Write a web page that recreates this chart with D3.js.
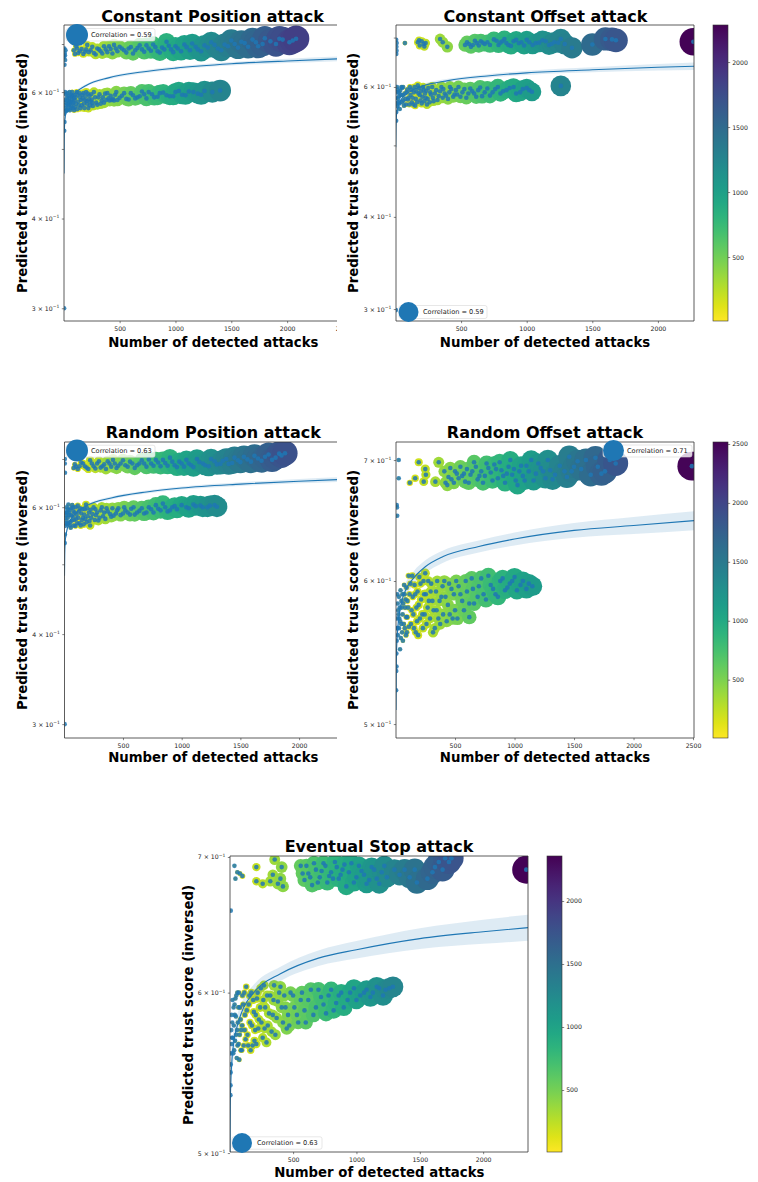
<!DOCTYPE html>
<html><head><meta charset="utf-8">
<script src="https://cdn.jsdelivr.net/npm/d3@7"></script>
<style>body{margin:0;background:#fff} svg{display:block} text{font-family:"DejaVu Sans",sans-serif}</style>
</head><body><svg id="c" width="758" height="1182"></svg>
<script>
// ---------------- DATA ----------------
const titles = ["Constant Position attack","Constant Offset attack","Random Position attack","Random Offset attack","Eventual Stop attack"];
const correlations = ["0.59","0.59","0.63","0.71","0.63"];
const xLabel = "Number of detected attacks";
const yLabel = "Predicted trust score (inversed)";
const xTicksCP = [500,1000,1500,2000,2500];
const xTicksCO = [500,1000,1500,2000];
const xTicksRP = [500,1000,1500,2000];
const xTicksRO = [500,1000,1500,2000,2500];
const xTicksES = [500,1000,1500,2000];
const yTicksWide = [0.3,0.4,0.5,0.6,0.7];
const yLabelsWide = [0.3,0.4,0.6];
const yTicksNarrow = [0.5,0.6,0.7];
const yLabelsNarrow = [0.5,0.6,0.7];
const cbTicksCO = [500,1000,1500,2000];
const cbTicksRO = [500,1000,1500,2000,2500];
const cbTicksES = [500,1000,1500,2000];

const pointsCP = [[5,0.69],[8,0.68],[12,0.665],[6,0.655],[15,0.686],[10,0.675],[4,0.672],
[90,0.686],[110,0.695],[130,0.68],[160,0.689],[190,0.683],[210,0.698],[240,0.686],[270,0.68],[300,0.69],[330,0.684],[360,0.695],[390,0.682],[420,0.689],[450,0.698],[480,0.684],[520,0.69],[560,0.681],[600,0.693],[640,0.686],[680,0.697],[720,0.683],[760,0.69],[800,0.699],[840,0.684],[880,0.692],[920,0.705],[960,0.688],[1000,0.695],[1050,0.684],[1100,0.693],[1150,0.701],[1200,0.688],[1260,0.697],[1320,0.704],[1380,0.69],[1440,0.699],[1500,0.708],[1560,0.692],[1620,0.702],[1690,0.71],[1740,0.695],[1800,0.713],[1900,0.7],[1960,0.71],[2020,0.704],[2080,0.712],
[100,0.678],[120,0.69],[145,0.684],[175,0.678],[200,0.688],[225,0.682],[255,0.694],[285,0.677],[315,0.688],[345,0.679],[375,0.688],[405,0.695],[435,0.679],[465,0.69],[500,0.694],[540,0.686],[580,0.69],[620,0.679],[660,0.691],[700,0.688],[740,0.697],[780,0.685],[820,0.693],[860,0.681],[900,0.688],[940,0.696],[980,0.682],[1020,0.69],[1080,0.699],[1130,0.686],[1180,0.694],[1230,0.684],[1290,0.692],[1350,0.698],[1410,0.686],[1470,0.695],[1530,0.7],[1590,0.705],[1650,0.694],[1720,0.704],[1780,0.7],[1850,0.706],[1930,0.712],[2050,0.708],
[4,0.53],[6,0.545],[5,0.56],[8,0.575],[10,0.585],[12,0.6],[15,0.57],[20,0.58],[25,0.565],[30,0.59],[35,0.578],[40,0.575],[45,0.592],[50,0.583],[55,0.566],[60,0.57],[65,0.582],[70,0.595],[75,0.6],[80,0.578],[85,0.57],[90,0.588],[95,0.594],[100,0.572],[115,0.6],[120,0.568],[130,0.582],[140,0.598],[145,0.59],[150,0.57],[160,0.575],[170,0.588],[175,0.598],[190,0.585],[200,0.6],[210,0.578],[220,0.57],[230,0.593],[240,0.582],[250,0.586],[260,0.574],[270,0.6],[290,0.58],[310,0.59],[340,0.584],[370,0.597],[400,0.588],[430,0.585],[460,0.595],[500,0.589],[540,0.598],[580,0.586],[620,0.594],[660,0.59],[700,0.601],[740,0.588],[790,0.596],[840,0.591],[890,0.599],[950,0.592],[1000,0.6],[1060,0.595],[1120,0.601],[1200,0.597],[1260,0.602],[1400,0.603],[3,0.3],
[18,0.596],[22,0.566],[28,0.584],[33,0.598],[38,0.568],[42,0.588],[48,0.576],[52,0.6],[58,0.58],[62,0.592],[68,0.573],[72,0.585],[78,0.592],[88,0.58],[92,0.566],[98,0.585],[105,0.59],[110,0.578],[125,0.595],[135,0.575],[155,0.585],[165,0.595],[180,0.578],[185,0.57],[195,0.592],[205,0.583],[215,0.597],[225,0.586],[235,0.575],[245,0.596],[255,0.58],[280,0.59],[300,0.576],[320,0.596],[330,0.578],[350,0.59],[360,0.58],[380,0.585],[390,0.598],[410,0.584],[420,0.593],[440,0.587],[450,0.584],[470,0.6],[480,0.585],[520,0.593],[560,0.587],[600,0.598],[640,0.588],[680,0.592],[720,0.596],[760,0.6],[810,0.59],[860,0.598],[920,0.594],[980,0.592],[1030,0.602],[1090,0.594],[1160,0.6],[1230,0.595],[1330,0.6]];

const pointsCO = [[5,0.695],[7,0.68],[6,0.665],[9,0.688],[8,0.672],[72,0.688],[170,0.69],[185,0.683],[200,0.692],[215,0.686],[230,0.688],[340,0.697],[395,0.68],[530,0.684],[560,0.686],[590,0.684],[620,0.688],[650,0.692],[680,0.686],[700,0.69],[770,0.693],[800,0.689],[830,0.697],[860,0.684],[900,0.692],[940,0.688],[980,0.683],[1020,0.69],[1070,0.688],[1120,0.694],[1170,0.684],[1210,0.69],[1260,0.697],[1345,0.678],[1500,0.685],[1600,0.697],[1650,0.696],[1680,0.694],[2270,0.691],
[545,0.69],[575,0.68],[605,0.693],[635,0.683],[665,0.689],[720,0.684],[750,0.696],[785,0.684],[815,0.692],[845,0.688],[880,0.682],[920,0.695],[960,0.69],[1000,0.695],[1045,0.684],[1095,0.689],[1145,0.692],[1190,0.686],[1240,0.689],[1290,0.686],[180,0.694],[220,0.681],[360,0.69],
[5,0.54],[6,0.555],[8,0.57],[5,0.58],[10,0.59],[12,0.6],[15,0.565],[20,0.578],[25,0.59],[30,0.57],[40,0.585],[45,0.6],[50,0.598],[60,0.575],[65,0.566],[70,0.588],[80,0.568],[90,0.595],[95,0.577],[100,0.58],[110,0.6],[125,0.572],[135,0.568],[140,0.59],[155,0.578],[160,0.592],[170,0.603],[185,0.585],[200,0.57],[215,0.595],[230,0.58],[240,0.568],[250,0.598],[270,0.586],[290,0.574],[310,0.594],[330,0.583],[350,0.6],[375,0.588],[400,0.578],[425,0.596],[450,0.586],[480,0.6],[510,0.59],[540,0.58],[570,0.597],[600,0.588],[630,0.594],[660,0.583],[700,0.597],[740,0.59],[780,0.6],[820,0.592],[870,0.598],[920,0.588],[970,0.596],[1040,0.591],[1260,0.602],[3,0.299],
[18,0.595],[22,0.572],[28,0.583],[33,0.56],[36,0.593],[48,0.572],[55,0.585],[58,0.6],[75,0.578],[85,0.59],[105,0.568],[115,0.585],[120,0.595],[130,0.58],[145,0.6],[150,0.566],[165,0.572],[175,0.588],[180,0.598],[190,0.575],[195,0.592],[205,0.582],[210,0.6],[220,0.574],[225,0.588],[235,0.593],[245,0.578],[260,0.572],[265,0.59],[280,0.6],[285,0.58],[300,0.588],[320,0.576],[340,0.592],[360,0.58],[365,0.596],[385,0.584],[410,0.59],[415,0.6],[440,0.582],[460,0.594],[470,0.586],[495,0.582],[525,0.596],[555,0.588],[585,0.592],[615,0.582],[645,0.599],[680,0.59],[720,0.584],[760,0.596],[800,0.588],[845,0.594],[900,0.6],[950,0.59],[1000,0.598],[1020,0.594]];

const pointsRP = [[5,0.70],[6,0.67],[4,0.69],[80,0.68],[100,0.683],[130,0.684],[160,0.69],[190,0.681],[220,0.697],[250,0.684],[280,0.69],[310,0.681],[340,0.688],[370,0.695],[400,0.683],[430,0.69],[460,0.685],[500,0.697],[540,0.683],[580,0.69],[620,0.686],[660,0.697],[700,0.683],[740,0.69],[780,0.698],[820,0.684],[860,0.691],[900,0.703],[940,0.686],[980,0.694],[1020,0.683],[1060,0.69],[1100,0.682],[1150,0.693],[1200,0.686],[1250,0.7],[1300,0.688],[1350,0.696],[1400,0.689],[1450,0.703],[1500,0.693],[1560,0.699],[1620,0.707],[1680,0.696],[1740,0.71],[1800,0.703],[1850,0.708],[1880,0.713],
[90,0.688],[115,0.678],[145,0.692],[175,0.684],[205,0.678],[235,0.69],[265,0.679],[295,0.695],[325,0.684],[355,0.678],[385,0.69],[415,0.698],[445,0.68],[480,0.69],[520,0.686],[560,0.694],[600,0.68],[640,0.69],[680,0.69],[720,0.699],[760,0.685],[800,0.692],[840,0.698],[880,0.685],[920,0.694],[960,0.682],[1000,0.69],[1040,0.698],[1080,0.686],[1130,0.7],[1180,0.69],[1230,0.684],[1280,0.695],[1330,0.689],[1380,0.7],[1430,0.691],[1480,0.697],[1530,0.705],[1590,0.694],[1650,0.701],[1710,0.705],[1770,0.698],[1830,0.712],
[4,0.535],[5,0.55],[6,0.565],[8,0.58],[10,0.59],[12,0.57],[15,0.585],[20,0.6],[25,0.568],[30,0.58],[35,0.605],[40,0.59],[50,0.572],[55,0.562],[60,0.598],[70,0.583],[75,0.6],[80,0.566],[90,0.59],[95,0.565],[100,0.578],[115,0.603],[125,0.592],[130,0.57],[140,0.566],[145,0.588],[160,0.58],[175,0.596],[185,0.605],[190,0.572],[210,0.59],[220,0.566],[230,0.58],[250,0.6],[270,0.585],[290,0.575],[310,0.594],[330,0.583],[360,0.598],[390,0.587],[420,0.584],[450,0.594],[480,0.585],[510,0.6],[540,0.59],[570,0.597],[600,0.586],[640,0.593],[680,0.588],[720,0.6],[760,0.59],[800,0.597],[840,0.607],[880,0.592],[920,0.6],[960,0.596],[1000,0.604],[1060,0.598],[1120,0.602],[1180,0.6],[1240,0.603],[1300,0.601],[3,0.3],
[18,0.575],[22,0.59],[28,0.596],[32,0.57],[38,0.585],[45,0.595],[48,0.566],[58,0.585],[65,0.575],[68,0.604],[78,0.592],[85,0.576],[98,0.6],[105,0.586],[110,0.57],[120,0.58],[135,0.598],[150,0.576],[155,0.596],[165,0.568],[170,0.586],[180,0.578],[195,0.598],[200,0.583],[215,0.574],[225,0.595],[240,0.587],[260,0.576],[265,0.596],[280,0.59],[300,0.58],[320,0.6],[340,0.59],[350,0.578],[370,0.592],[400,0.582],[410,0.598],[440,0.588],[460,0.598],[500,0.588],[520,0.594],[560,0.586],[590,0.6],[620,0.59],[660,0.598],[700,0.59],[740,0.596],[780,0.604],[820,0.594],[860,0.6],[900,0.594],[940,0.602],[1040,0.6],[1100,0.605],[1160,0.603],[1220,0.6],[1280,0.604]];

const pointsRO = [[27,0.70],[27,0.684],[10,0.661],[12,0.659],[14,0.652],[120,0.68],[165,0.684],[195,0.698],[237,0.681],[250,0.692],[255,0.687],[335,0.681],[363,0.698],[420,0.68],[445,0.685],[470,0.683],[500,0.69],[530,0.684],[560,0.686],[585,0.681],[600,0.692],[630,0.687],[660,0.698],[690,0.683],[720,0.69],[750,0.686],[780,0.693],[800,0.689],[830,0.696],[860,0.684],[890,0.691],[920,0.68],[950,0.694],[980,0.687],[1010,0.682],[1040,0.69],[1070,0.686],[1100,0.695],[1140,0.70],[1180,0.688],[1220,0.693],[1260,0.684],[1300,0.691],[1340,0.687],[1420,0.69],[1460,0.703],[1500,0.694],[1530,0.699],[1640,0.687],[1700,0.694],[1760,0.69],[1800,0.70],[1850,0.697],[2490,0.6946],
[410,0.69],[435,0.678],[460,0.693],[490,0.68],[515,0.688],[545,0.694],[575,0.688],[615,0.68],[645,0.69],[675,0.694],[705,0.686],[735,0.68],[765,0.697],[815,0.682],[845,0.692],[875,0.698],[905,0.686],[935,0.688],[965,0.7],[995,0.692],[1025,0.678],[1055,0.695],[1085,0.682],[1120,0.69],[1160,0.682],[1200,0.697],[1240,0.69],[1280,0.7],[1320,0.683],[1380,0.695],[1440,0.685],[1480,0.69],[1560,0.692],[1600,0.7],[1680,0.702],[1730,0.688],
[5,0.522],[6,0.535],[8,0.538],[7,0.547],[10,0.556],[12,0.565],[15,0.572],[18,0.583],[20,0.56],[25,0.575],[30,0.565],[35,0.58],[40,0.57],[45,0.558],[50,0.585],[55,0.562],[60,0.575],[70,0.568],[75,0.59],[80,0.58],[90,0.573],[95,0.562],[100,0.585],[110,0.604],[125,0.598],[130,0.568],[140,0.604],[150,0.575],[165,0.59],[170,0.562],[180,0.57],[195,0.582],[200,0.603],[210,0.598],[225,0.575],[240,0.59],[250,0.606],[260,0.568],[280,0.585],[300,0.598],[320,0.578],[330,0.565],[340,0.592],[360,0.572],[385,0.588],[410,0.6],[430,0.57],[440,0.582],[470,0.594],[480,0.572],[500,0.578],[530,0.596],[560,0.585],[590,0.6],[620,0.583],[620,0.573],[650,0.594],[690,0.588],[720,0.602],[760,0.586],[800,0.597],[840,0.59],[880,0.6],[920,0.593],[960,0.598],[1000,0.603],[1050,0.597],[1100,0.594],[1150,0.596],
[15,0.59],[18,0.565],[22,0.578],[28,0.588],[32,0.572],[38,0.55],[42,0.593],[48,0.568],[52,0.58],[58,0.59],[62,0.556],[65,0.583],[72,0.597],[78,0.565],[85,0.586],[88,0.56],[92,0.595],[98,0.573],[105,0.58],[112,0.566],[118,0.59],[135,0.578],[145,0.588],[155,0.565],[160,0.597],[175,0.58],[185,0.592],[190,0.56],[205,0.572],[215,0.586],[230,0.565],[235,0.6],[245,0.575],[255,0.59],[270,0.58],[275,0.6],[290,0.572],[295,0.592],[310,0.585],[315,0.562],[345,0.578],[350,0.6],[370,0.585],[375,0.568],[395,0.596],[400,0.575],[420,0.588],[450,0.598],[455,0.575],[490,0.59],[510,0.6],[520,0.572],[545,0.59],[575,0.578],[600,0.592],[640,0.602],[660,0.583],[700,0.596],[740,0.59],[780,0.604],[820,0.594],[860,0.588],[900,0.602],[940,0.595],[980,0.6],[1020,0.593],[1070,0.6],[1120,0.598]];

const pointsES = [[37,0.693],[60,0.688],[80,0.687],[100,0.685],[45,0.683],[8,0.6586],[210,0.692],[210,0.681],[355,0.698],[410,0.692],[320,0.681],[380,0.679],[420,0.677],[560,0.693],[590,0.682],[620,0.687],[650,0.678],[680,0.69],[710,0.684],[740,0.695],[770,0.68],[800,0.688],[830,0.696],[860,0.683],[890,0.69],[920,0.677],[960,0.695],[1000,0.684],[1040,0.689],[1080,0.679],[1120,0.692],[1160,0.683],[1200,0.688],[1240,0.684],[1300,0.69],[1380,0.69],[1477,0.68],[1460,0.69],[1600,0.688],[1650,0.696],[1700,0.699],[1750,0.699],[2340,0.69],
[575,0.687],[605,0.693],[635,0.684],[665,0.695],[695,0.68],[725,0.689],[755,0.693],[785,0.685],[815,0.683],[845,0.692],[875,0.686],[905,0.694],[940,0.688],[980,0.68],[1020,0.693],[1060,0.686],[1100,0.682],[1140,0.69],[1180,0.679],[1220,0.693],[1340,0.686],[1420,0.684],[1560,0.683],[1620,0.692],[1680,0.69],[1730,0.696],[340,0.686],[400,0.683],[260,0.679],
[5,0.534],[6,0.54],[7,0.548],[8,0.553],[10,0.56],[12,0.575],[15,0.566],[20,0.58],[25,0.57],[30,0.59],[35,0.562],[40,0.585],[45,0.596],[50,0.572],[55,0.557],[60,0.6],[65,0.58],[70,0.566],[75,0.556],[80,0.59],[90,0.575],[95,0.562],[100,0.598],[110,0.565],[120,0.585],[125,0.569],[130,0.604],[140,0.572],[150,0.592],[160,0.58],[165,0.562],[170,0.6],[180,0.565],[190,0.587],[200,0.575],[210,0.566],[215,0.596],[230,0.582],[245,0.603],[260,0.57],[270,0.605],[280,0.59],[290,0.567],[300,0.578],[320,0.598],[340,0.585],[350,0.605],[360,0.572],[380,0.594],[400,0.604],[420,0.58],[440,0.59],[450,0.576],[470,0.578],[500,0.598],[530,0.585],[560,0.595],[600,0.58],[640,0.602],[680,0.59],[720,0.597],[760,0.586],[800,0.602],[840,0.593],[880,0.6],[930,0.595],[980,0.603],[1030,0.598],[1080,0.602],[1130,0.6],[1180,0.603],[1230,0.602],[1288,0.604],
[14,0.585],[18,0.57],[22,0.595],[28,0.56],[32,0.578],[38,0.592],[42,0.568],[48,0.584],[52,0.598],[58,0.575],[62,0.565],[68,0.59],[72,0.6],[78,0.572],[85,0.582],[88,0.562],[98,0.578],[105,0.592],[115,0.6],[118,0.575],[135,0.588],[145,0.565],[155,0.598],[175,0.578],[185,0.595],[195,0.568],[205,0.585],[220,0.6],[225,0.576],[240,0.59],[250,0.58],[265,0.595],[275,0.576],[295,0.598],[310,0.586],[330,0.574],[345,0.595],[370,0.583],[390,0.6],[410,0.59],[430,0.598],[460,0.585],[480,0.6],[510,0.59],[540,0.58],[570,0.6],[590,0.588],[620,0.595],[660,0.585],[700,0.602],[740,0.592],[780,0.598],[820,0.588],[860,0.598],[900,0.59],[950,0.6],[1000,0.595],[1060,0.6],[1110,0.597],[1160,0.604],[1210,0.598],[1260,0.603]];

// fitted curves
const fitXCP = [2,4,8,15,30,60,100,200,400,700,1000,1500,2000,2500];
const fitYCP = [0.462,0.515,0.543,0.557,0.572,0.587,0.598,0.613,0.628,0.640,0.648,0.657,0.663,0.668];
const fitCICP = [0.012,0.009,0.007,0.006,0.005,0.004,0.0035,0.003,0.003,0.003,0.0032,0.0038,0.0045,0.005];
const fitXCO = [2,4,8,15,30,60,100,200,400,700,1000,1500,2000,2275];
const fitYCO = [0.497,0.530,0.550,0.560,0.571,0.582,0.590,0.601,0.612,0.621,0.627,0.633,0.638,0.640];
const fitCICO = [0.015,0.011,0.008,0.007,0.006,0.005,0.0045,0.004,0.0035,0.0035,0.004,0.005,0.0065,0.0075];
const fitXRP = [2,4,8,15,30,60,100,200,400,700,1000,1500,2000,2500];
const fitYRP = [0.482,0.515,0.537,0.549,0.564,0.578,0.589,0.604,0.618,0.630,0.638,0.646,0.652,0.657];
const fitCIRP = [0.012,0.009,0.007,0.006,0.005,0.0042,0.0038,0.0033,0.003,0.003,0.0032,0.0038,0.0045,0.005];
const fitXRO = [4,6,10,20,40,80,150,250,400,700,1000,1500,2000,2508];
const fitYRO = [0.509,0.535,0.553,0.566,0.580,0.592,0.602,0.611,0.619,0.627,0.633,0.640,0.644,0.648];
const fitCIRO = [0.02,0.015,0.012,0.009,0.007,0.0058,0.0052,0.005,0.0048,0.0048,0.0052,0.006,0.007,0.0078];
const fitXES = [2,4,8,15,30,60,100,200,400,700,1000,1500,2000,2354];
const fitYES = [0.498,0.527,0.541,0.553,0.566,0.578,0.588,0.601,0.613,0.624,0.630,0.638,0.643,0.646];
const fitCIES = [0.02,0.016,0.013,0.011,0.009,0.0075,0.0065,0.0055,0.005,0.0055,0.0062,0.0075,0.0088,0.0096];

// ---------------- LAYOUT ----------------
const panels = [
 {pts:pointsCP, fx:fitXCP, fy:fitYCP, fci:fitCICP, xt:xTicksCP, yt:yTicksWide, yl:yLabelsWide,
  x0:64, x1:343, y0:25, y1:321, xd:[2,2500], yd:[0.288,0.744], crop:337, cd:[5,2550],
  title:[212.5,21.7], xlab:[213.3,346.5], ylab:[26.5,173],
  leg:{cx:77,cy:35,r:11,bx:66,by:28.5,bw:89,bh:12.5,tx:91,ty:37.3}},
 {pts:pointsCO, fx:fitXCO, fy:fitYCO, fci:fitCICO, xt:xTicksCO, yt:yTicksWide, yl:yLabelsWide,
  x0:396, x1:694, y0:25, y1:321, xd:[4,2275], yd:[0.289,0.728], cd:[8,2285],
  cb:{x:713,w:15,ticks:cbTicksCO},
  title:[545.5,21.7], xlab:[545,346.5], ylab:[358,173],
  leg:{cx:408.5,cy:312,r:10,bx:399,by:305.5,bw:88,bh:13,tx:423,ty:314.3}},
 {pts:pointsRP, fx:fitXRP, fy:fitYRP, fci:fitCIRP, xt:xTicksRP, yt:yTicksWide, yl:yLabelsWide,
  x0:64.5, x1:357.8, y0:442, y1:738, xd:[2,2500], yd:[0.287,0.739], crop:337, cd:[5,2500],
  title:[213.3,437.7], xlab:[213.3,762], ylab:[26.5,590],
  leg:{cx:77,cy:450.5,r:11,bx:66,by:445.2,bw:89,bh:12,tx:91,ty:452.8}},
 {pts:pointsRO, fx:fitXRO, fy:fitYRO, fci:fitCIRO, xt:xTicksRO, yt:yTicksNarrow, yl:yLabelsNarrow,
  x0:396, x1:694, y0:442, y1:738, xd:[4,2508], yd:[0.4912,0.7163], cd:[5,2517],
  cb:{x:713,w:15,ticks:cbTicksRO},
  title:[545,437.7], xlab:[545,762], ylab:[358,590],
  leg:{cx:613.5,cy:450.5,r:10.5,bx:603,by:445,bw:89,bh:12,tx:627,ty:452.8}},
 {pts:pointsES, fx:fitXES, fy:fitYES, fci:fitCIES, xt:xTicksES, yt:yTicksNarrow, yl:yLabelsNarrow,
  x0:230, x1:528, y0:856, y1:1152, xd:[2,2354], yd:[0.5006,0.7008], cd:[8,2357],
  cb:{x:547,w:15,ticks:cbTicksES},
  title:[379,851.5], xlab:[379.3,1177], ylab:[193,1005],
  leg:{cx:242,cy:1143,r:10,bx:232,by:1136.8,bw:90,bh:12.4,tx:257,ty:1145}}
];

const BLUE = "#1f77b4";
const svg = d3.select("#c");
const defs = svg.append("defs");
const grad = defs.append("linearGradient").attr("id","vir").attr("x1",0).attr("y1",0).attr("x2",0).attr("y2",1);
d3.range(0,21).forEach(i=>{const t=i/20; grad.append("stop").attr("offset",t).attr("stop-color",d3.interpolateViridis(t));});

function styleAxis(g){
  g.select(".domain").remove();
  g.selectAll(".tick line").attr("stroke","#333").attr("stroke-width",0.6);
  g.selectAll(".tick text").attr("font-size",6.2).attr("fill","#222").attr("font-family","DejaVu Sans");
}

panels.forEach((p,i)=>{
  const root = svg.append("g");
  if (p.crop){
    defs.append("clipPath").attr("id","crop"+i).append("rect").attr("x",0).attr("y",p.y0-30).attr("width",p.crop).attr("height",p.y1-p.y0+60);
  }
  const g = root.append("g").attr("clip-path", p.crop?`url(#crop${i})`:null);
  const x = d3.scaleLinear().domain(p.xd).range([p.x0,p.x1]);
  const y = d3.scaleLog().domain(p.yd).range([p.y1,p.y0]);
  const cn = d3.scaleLinear().domain(p.cd).range([1,0]).clamp(true);
  defs.append("clipPath").attr("id","plot"+i).append("rect")
    .attr("x",p.x0).attr("y",p.y0).attr("width",p.x1-p.x0).attr("height",p.y1-p.y0);
  const plot = g.append("g").attr("clip-path",`url(#plot${i})`);
  const pts = p.pts.slice().sort((a,b)=>a[0]-b[0]);
  plot.selectAll("circle.big").data(pts).join("circle").attr("class","big")
    .attr("cx",d=>x(d[0])).attr("cy",d=>y(d[1])).attr("r",d=>0.29*Math.sqrt(d[0]))
    .attr("fill",d=>d3.interpolateViridis(cn(d[0])));
  plot.selectAll("circle.dot").data(pts).join("circle").attr("class","dot")
    .attr("cx",d=>x(d[0])).attr("cy",d=>y(d[1])).attr("r",2.3)
    .attr("fill",BLUE).attr("fill-opacity",0.85);
  const fit = p.fx.map((v,k)=>({x:v,y:p.fy[k],lo:p.fy[k]-p.fci[k],hi:p.fy[k]+p.fci[k]}));
  plot.append("path").datum(fit)
    .attr("d",d3.area().x(d=>x(d.x)).y0(d=>y(d.lo)).y1(d=>y(d.hi)).curve(d3.curveMonotoneX))
    .attr("fill",BLUE).attr("fill-opacity",0.15);
  plot.append("path").datum(fit)
    .attr("d",d3.line().x(d=>x(d.x)).y(d=>y(d.y)).curve(d3.curveMonotoneX))
    .attr("fill","none").attr("stroke",BLUE).attr("stroke-width",1.1);

  // axes
  const ax = g.append("g").attr("transform",`translate(0,${p.y1})`)
    .call(d3.axisBottom(x).tickValues(p.xt).tickSize(2.2).tickPadding(3).tickFormat(d3.format("d")));
  styleAxis(ax);
  const ay = g.append("g").attr("transform",`translate(${p.x0},0)`)
    .call(d3.axisLeft(y).tickValues(p.yt).tickSize(2.2).tickPadding(2.6).tickFormat(()=>""));
  styleAxis(ay);
  ay.selectAll(".tick").each(function(d){
    if (!p.yl.some(v=>Math.abs(v-d)<1e-9)) return;
    const t = d3.select(this).select("text");
    t.append("tspan").text(`${Math.round(d*10)} × 10`);
    t.append("tspan").attr("font-size",4.4).attr("dy",-2.6).text("−1");
  });
  // spines
  const sp = g.append("g").attr("stroke","#333").attr("stroke-width",0.8).attr("fill","none");
  sp.append("line").attr("x1",p.x0).attr("x2",p.x0).attr("y1",p.y0).attr("y2",p.y1);
  sp.append("line").attr("x1",p.x0).attr("x2",p.x1).attr("y1",p.y1).attr("y2",p.y1);
  sp.append("line").attr("x1",p.x0).attr("x2",p.x1).attr("y1",p.y0).attr("y2",p.y0);
  if (!p.crop) sp.append("line").attr("x1",p.x1).attr("x2",p.x1).attr("y1",p.y0).attr("y2",p.y1);

  // legend
  const L = p.leg;
  g.append("rect").attr("x",L.bx).attr("y",L.by).attr("width",L.bw).attr("height",L.bh).attr("rx",2)
    .attr("fill","#fff").attr("fill-opacity",0.8).attr("stroke","#d6d6d6").attr("stroke-width",0.6);
  g.append("circle").attr("cx",L.cx).attr("cy",L.cy).attr("r",L.r).attr("fill",BLUE);
  g.append("text").attr("x",L.tx).attr("y",L.ty).attr("font-size",6.6).attr("fill","#222")
    .text(`Correlation = ${correlations[i]}`);

  // texts
  g.append("text").attr("x",p.title[0]).attr("y",p.title[1]).attr("text-anchor","middle")
    .attr("font-size",16).attr("font-weight","bold").attr("fill","#000").text(titles[i]);
  g.append("text").attr("x",p.xlab[0]).attr("y",p.xlab[1]).attr("text-anchor","middle")
    .attr("font-size",13.3).attr("font-weight","bold").attr("fill","#000").text(xLabel);
  g.append("text").attr("transform",`translate(${p.ylab[0]},${p.ylab[1]}) rotate(-90)`).attr("text-anchor","middle")
    .attr("font-size",13.3).attr("font-weight","bold").attr("fill","#000").text(yLabel);

  // colorbar
  if (p.cb){
    const cs = d3.scaleLinear().domain(p.cd).range([p.y1,p.y0]);
    root.append("rect").attr("x",p.cb.x).attr("y",p.y0).attr("width",p.cb.w).attr("height",p.y1-p.y0)
      .attr("fill","url(#vir)").attr("stroke","#333").attr("stroke-width",0.6);
    const ac = root.append("g").attr("transform",`translate(${p.cb.x+p.cb.w},0)`)
      .call(d3.axisRight(cs).tickValues(p.cb.ticks).tickSize(2.2).tickPadding(2).tickFormat(d3.format("d")));
    styleAxis(ac);
  }
});
</script>
</body></html>
